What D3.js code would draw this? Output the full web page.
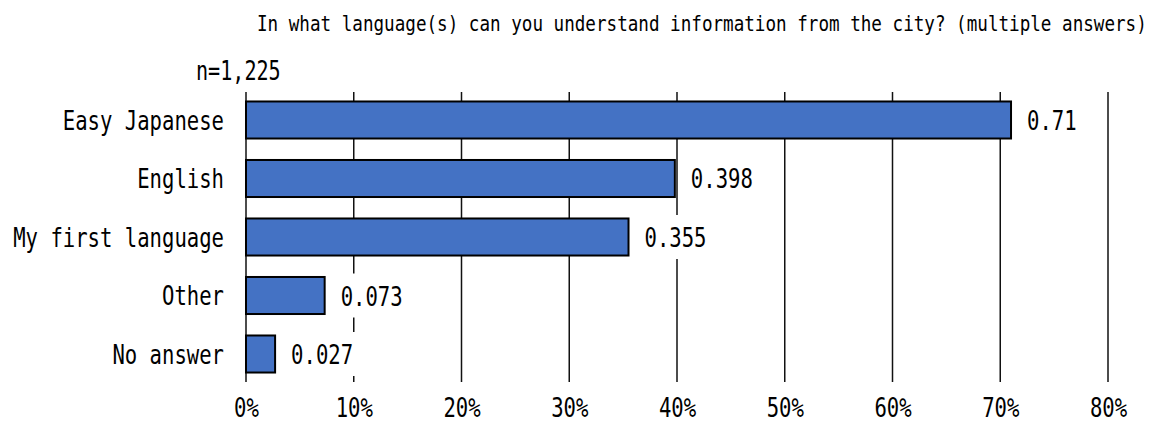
<!DOCTYPE html>
<html>
<head>
<meta charset="utf-8">
<script src="https://cdn.jsdelivr.net/npm/d3@7"></script>
<style>
  html, body { margin: 0; padding: 0; background: #fff; }
  svg { display: block; }
  text { font-family: "DejaVu Sans Mono", "Liberation Mono", monospace; fill: #000; }
</style>
</head>
<body>
<svg id="chart" width="1158" height="425"></svg>
<script>
// Survey result: languages in which respondents understand city information
const categories = ["Easy Japanese", "English", "My first language", "Other", "No answer"];
const values = [0.71, 0.398, 0.355, 0.073, 0.027];
const tickValues = [0, 0.1, 0.2, 0.3, 0.4, 0.5, 0.6, 0.7, 0.8];
const titleText = "In what language(s) can you understand information from the city? (multiple answers)";
const sampleNote = "n=1,225";

const svg = d3.select("#chart");

const plot = { left: 246, right: 1108, top: 92, bottom: 382 };

const x = d3.scaleLinear().domain([0, 0.8]).range([plot.left, plot.right]);
const y = d3.scaleBand()
  .domain(categories)
  .range([plot.top, plot.bottom])
  .paddingInner(0.367)
  .paddingOuter(0.162);

// Half-width (narrow) glyph cells: each character gets a fixed advance
function cells(sel, advance) {
  sel.attr("textLength", function () { return this.textContent.length * advance; })
     .attr("lengthAdjust", "spacingAndGlyphs");
}

const LABEL_SIZE = 26.5;
const LABEL_ADV = 12.4;
const MONO_ADV = 0.602; // advance of the monospace face, in em

// Vertical gridlines
svg.append("g")
  .selectAll("line")
  .data(tickValues)
  .join("line")
  .attr("x1", d => x(d)).attr("x2", d => x(d))
  .attr("y1", plot.top).attr("y2", plot.bottom)
  .attr("stroke", "#111")
  .attr("stroke-width", 1.5);

// Bars
svg.append("g")
  .selectAll("rect")
  .data(values)
  .join("rect")
  .attr("x", x(0))
  .attr("y", (d, i) => y(categories[i]))
  .attr("width", d => x(d) - x(0))
  .attr("height", y.bandwidth())
  .attr("fill", "#4472C4")
  .attr("stroke", "#000")
  .attr("stroke-width", 2);

// Value labels on white boxes
const valueLabels = svg.append("g")
  .selectAll("g")
  .data(values)
  .join("g")
  .attr("transform", (d, i) => `translate(${x(d)},${y(categories[i]) + y.bandwidth() / 2})`);

valueLabels.append("rect")
  .attr("x", 7)
  .attr("y", -22)
  .attr("width", d => String(d).length * LABEL_ADV + 18)
  .attr("height", 44)
  .attr("fill", "#fff");

valueLabels.append("text")
  .attr("x", 16)
  .attr("y", 10)
  .attr("font-size", LABEL_SIZE)
  .text(d => String(d))
  .call(cells, LABEL_ADV);

// Category axis
const yAxis = svg.append("g")
  .attr("transform", `translate(${plot.left},0)`)
  .call(d3.axisLeft(y).tickSize(0).tickPadding(22));
yAxis.select(".domain").remove();
yAxis.selectAll("text")
  .attr("font-size", LABEL_SIZE)
  .attr("font-family", null)
  .attr("dy", "0.37em")
  .call(cells, LABEL_ADV);

// Percentage axis
const xAxis = svg.append("g")
  .attr("transform", `translate(0,${plot.bottom})`)
  .call(d3.axisBottom(x).tickValues(tickValues).tickFormat(d3.format(".0%")).tickSize(0).tickPadding(0));
xAxis.select(".domain").remove();
xAxis.selectAll("text")
  .attr("font-size", LABEL_SIZE)
  .attr("font-family", null)
  .attr("dy", null)
  .attr("y", 35)
  .call(cells, LABEL_ADV);

// Title: condensed horizontally by a scale transform
const TITLE_SIZE = 20.5;
const TITLE_ADV = 10.6;
svg.append("g")
  .attr("transform", `translate(257,31) scale(${TITLE_ADV / (TITLE_SIZE * MONO_ADV)},1)`)
  .append("text")
  .attr("x", 0)
  .attr("y", 0)
  .attr("font-size", TITLE_SIZE)
  .text(titleText);

// Sample size
svg.append("text")
  .attr("x", 196)
  .attr("y", 80)
  .attr("font-size", LABEL_SIZE)
  .text(sampleNote)
  .call(cells, 12.1);
</script>
</body>
</html>
